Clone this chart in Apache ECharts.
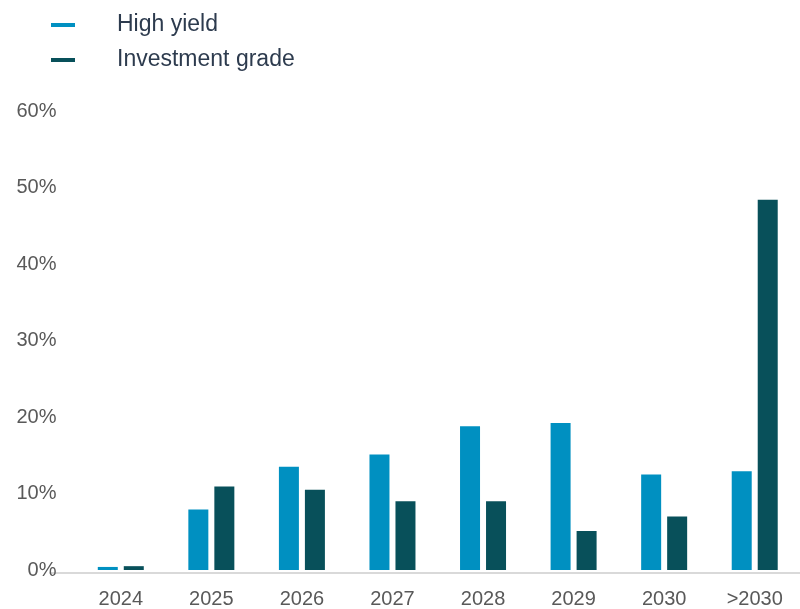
<!DOCTYPE html>
<html>
<head>
<meta charset="utf-8">
<script src="https://cdn.jsdelivr.net/npm/echarts@6/dist/echarts.min.js"></script>
<style>html,body{margin:0;padding:0;background:#fff}#c{width:800px;height:609px}</style>
</head>
<body>
<div id="c"></div>
<script>
const categories = ['2024','2025','2026','2027','2028','2029','2030','>2030'];
const highYield = [0.4, 7.9, 13.5, 15.1, 18.8, 19.2, 12.5, 12.9];
const investmentGrade = [0.5, 10.9, 10.5, 9.0, 9.0, 5.1, 7.0, 48.4];
const yTicks = [0, 10, 20, 30, 40, 50, 60];

const HY = '#0090C1', IG = '#08505A';
const chart = echarts.init(document.getElementById('c'), null, {renderer: 'canvas'});
chart.setOption({
  animation: false,
  legend: {
    orient: 'vertical', left: 51, top: 8.5, itemWidth: 24, itemHeight: 4, itemGap: 2,
    icon: 'rect', padding: 0,
    textStyle: {fontFamily: 'Liberation Sans, Arial', fontSize: 23, lineHeight: 23, color: '#2d3b4e', padding: [0, 0, 10, 37]},
    data: ['High yield', 'Investment grade']
  },
  grid: [
    {left: 75.5, width: 730.5, top: 111, bottom: 36, containLabel: false},
    {left: 50, right: 0, top: 111, bottom: 36, containLabel: false}
  ],
  xAxis: [
    {type: 'category', gridIndex: 0, data: categories,
     axisLine: {show: false}, axisTick: {show: false},
     axisLabel: {fontFamily: 'Liberation Sans Narrow, Arial Narrow, Arial', fontSize: 20, color: '#595959', margin: 19}},
    {type: 'value', gridIndex: 1, min: 0, max: 1, axisLabel: {show: false}, axisTick: {show: false}, splitLine: {show: false},
     axisLine: {show: true, lineStyle: {color: '#d9d9d9', width: 2}}}
  ],
  yAxis: [
    {type: 'value', gridIndex: 0, min: yTicks[0], max: yTicks[yTicks.length-1], interval: 10,
     axisLine: {show: false}, axisTick: {show: false}, splitLine: {show: false},
     axisLabel: {formatter: '{value}%', fontFamily: 'Liberation Sans Narrow, Arial Narrow, Arial', fontSize: 20, color: '#595959', margin: 19}},
    {type: 'value', gridIndex: 1, min: 0, max: 1, show: false}
  ],
  series: [
    {name: 'High yield', type: 'bar', data: highYield, barWidth: 20, barGap: '30%', itemStyle: {color: HY}, xAxisIndex: 0, yAxisIndex: 0},
    {name: 'Investment grade', type: 'bar', data: investmentGrade, barWidth: 20, barGap: '30%', itemStyle: {color: IG}, xAxisIndex: 0, yAxisIndex: 0}
  ]
});
</script>
</body>
</html>
